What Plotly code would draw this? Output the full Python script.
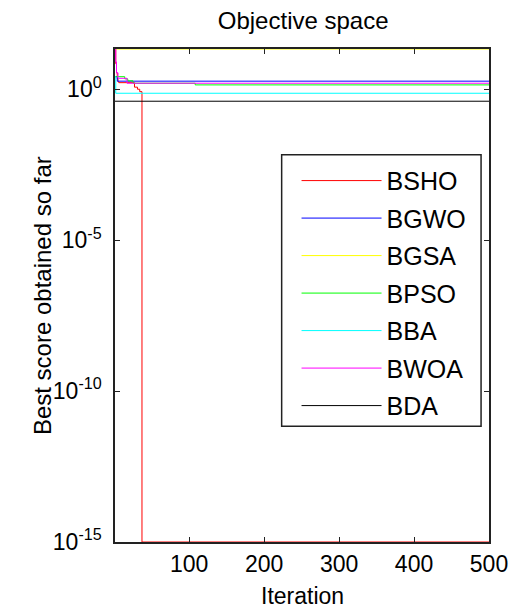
import plotly.graph_objects as go

# Convergence curves stored as breakpoints of step functions (iteration, best score)
names = ["BSHO", "BGWO", "BGSA", "BPSO", "BBA", "BWOA", "BDA"]
colors = ["#ff0000", "#0000ff", "#ffff00", "#00ff00", "#00ffff", "#ff00ff", "#000000"]

bsho_it = [1, 2, 3, 4, 5, 6, 27, 31, 34, 37, 500]
bsho_val = [21.5, 7.0, 3.5, 2.2, 1.8, 1.65, 1.17, 1.0, 0.83, 1e-15, 1e-15]

bgwo_it = [1, 4, 500]
bgwo_val = [2.6, 1.85, 1.85]

bgsa_it = [1, 500]
bgsa_val = [21.5, 21.5]

bpso_it = [1, 14, 18, 25, 108, 500]
bpso_val = [2.6, 2.2, 1.9, 1.58, 1.39, 1.39]

bba_it = [1, 2, 500]
bba_val = [2.6, 0.735, 0.735]

bwoa_it = [1, 2, 3, 5, 17, 500]
bwoa_val = [21.5, 8.0, 3.5, 2.3, 1.58, 1.58]

bda_it = [1, 500]
bda_val = [0.4, 0.4]

series_x = [bsho_it, bgwo_it, bgsa_it, bpso_it, bba_it, bwoa_it, bda_it]
series_y = [bsho_val, bgwo_val, bgsa_val, bpso_val, bba_val, bwoa_val, bda_val]

x_ticks = [100, 200, 300, 400, 500]
y_tickvals = [1e0, 1e-5, 1e-10, 1e-15]
y_ticktext = ["10<sup>0</sup>", "10<sup>-5</sup>", "10<sup>-10</sup>", "10<sup>-15</sup>"]

FONT = "Liberation Sans, Arial, sans-serif"

# plot area in pixels (for placing paper-referenced items)
L, R, T, B = 115, 492, 49.3, 541.7
PW, PH = R - L, B - T

fig = go.Figure()
for n, c, xs, ys in zip(names, colors, series_x, series_y):
    fig.add_trace(go.Scatter(
        x=xs, y=ys, name=n, mode="lines", line=dict(color=c, width=1, shape="hv"),
        legendgroup=n,
    ))

fig.update_layout(
    width=520, height=612,
    margin=dict(l=115, r=28, t=49, b=70),
    paper_bgcolor="white", plot_bgcolor="white",
    font=dict(family=FONT, size=23, color="black"),
    title=dict(text="Objective space", x=0.583, xanchor="center", y=0.967, yanchor="middle",
               font=dict(size=24)),
    showlegend=True,
    legend=dict(
        x=(298 - L) / PW, y=(B - 158) / PH, xanchor="left", yanchor="top",
        bgcolor="rgba(0,0,0,0)", borderwidth=0,
        font=dict(size=25), itemwidth=80, tracegroupgap=2,
    ),
    shapes=[dict(
        type="rect", xref="paper", yref="paper",
        x0=(283 - L) / PW, x1=(484 - L) / PW,
        y0=(B - 426) / PH, y1=(B - 155) / PH,
        line=dict(color="#222", width=1.5), layer="above",
    )],
    annotations=[
        dict(
            text="Best score obtained so far", textangle=-90,
            xref="paper", yref="paper", x=(42 - L) / PW, y=0.5,
            xanchor="center", yanchor="middle", showarrow=False,
            font=dict(size=24),
        ),
        dict(
            text="Iteration",
            xref="paper", yref="paper", x=0.5, y=(B - 596) / PH,
            xanchor="center", yanchor="middle", showarrow=False,
            font=dict(size=23),
        ),
    ],
)

fig.update_xaxes(
    range=[1, 500], tickvals=x_ticks, ticks="inside", ticklen=5, tickcolor="#222",
    showline=True, linecolor="#222", linewidth=1.5, mirror="ticks",
    showgrid=False, zeroline=False, ticklabelstandoff=1,
)
fig.update_yaxes(
    type="log", range=[-15, 1.3325],
    tickvals=y_tickvals, ticktext=y_ticktext, ticks="inside", ticklen=5, tickcolor="#222",
    showline=True, linecolor="#222", linewidth=1.5, mirror="ticks",
    showgrid=False, zeroline=False, ticklabelstandoff=7,
)

fig.write_html("out.html")
